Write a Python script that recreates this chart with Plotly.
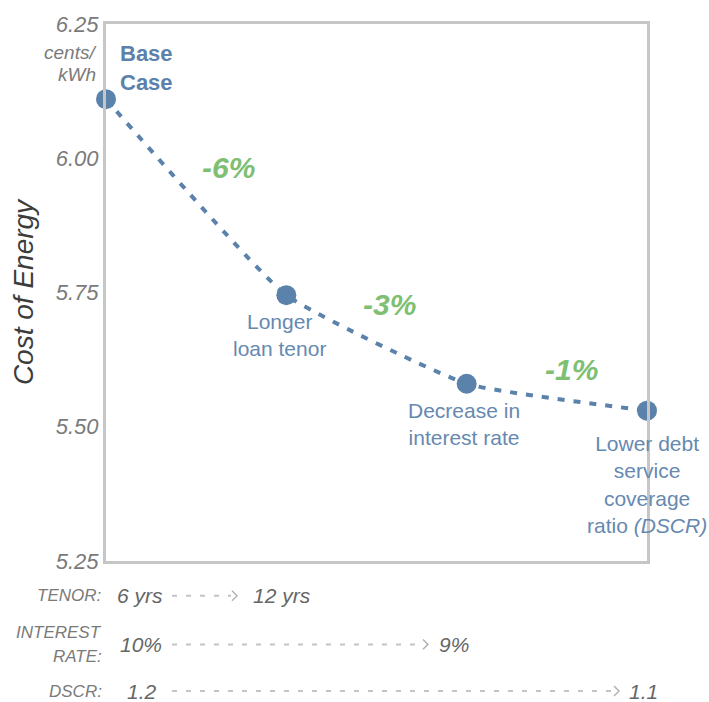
import plotly.graph_objects as go

# ---------------- data ----------------
scenario_x = [0, 1, 2, 3]
scenarios = ["Base Case", "Longer loan tenor", "Decrease in interest rate",
             "Lower debt service coverage ratio"]
cost = [6.11, 5.745, 5.58, 5.53]
point_labels = ["<b>Base<br>Case</b>", "Longer<br>loan tenor",
                "Decrease in<br>interest rate",
                "Lower debt<br>service<br>coverage<br>ratio <i>(DSCR)</i>"]
changes = ["-6%", "-3%", "-1%"]
change_x = [0.68, 1.57, 2.58]
change_y = [5.983, 5.727, 5.607]
y_ticks = [5.25, 5.50, 5.75, 6.00, 6.25]
param_names = ["TENOR:", "INTEREST<br>RATE:", "DSCR:"]
param_from = ["6 yrs", "10%", "1.2"]
param_to = ["12 yrs", "9%", "1.1"]

# ---------------- style ----------------
W, H = 709, 702
ML, MR, MT, MB = 106, 62, 20, 141
PW, PH = W - ML - MR, H - MT - MB
BLUE = "#5b82ab"
BLUE_TXT = "#6689b0"
GREEN = "#7ebf74"
GRAY = "#7a7a7a"
FRAME = "#c6c6c6"
FONT = "Liberation Sans, Arial, sans-serif"


def px2paper_x(px):
    return (px - ML) / PW


def px2paper_y(py):
    return (MT + PH - py) / PH


fig = go.Figure()
fig.add_trace(go.Scatter(
    x=scenario_x, y=cost, mode="lines+markers", text=scenarios,
    line=dict(color=BLUE, width=4, dash="7px,9px", shape="spline", smoothing=0.4),
    marker=dict(size=20, color=BLUE),
    cliponaxis=False, hoverinfo="text+y", showlegend=False,
))

ann = []
# point labels
ann.append(dict(x=scenario_x[0], y=cost[0], xref="x", yref="y", text=point_labels[0],
                showarrow=False, xanchor="left", yanchor="bottom", xshift=12, yshift=2,
                align="left", font=dict(family=FONT, size=22, color=BLUE)))
shifts = [(0, 0), (-7, -13), (-3, -13), (0, -19)]
for i in range(1, 4):
    ann.append(dict(x=scenario_x[i], y=cost[i], xref="x", yref="y", text=point_labels[i],
                    showarrow=False, xanchor="center", yanchor="top",
                    xshift=shifts[i][0], yshift=shifts[i][1], align="center",
                    font=dict(family=FONT, size=21, color=BLUE_TXT)))
# change labels
for cx, cy, t in zip(change_x, change_y, changes):
    ann.append(dict(x=cx, y=cy, xref="x", yref="y", text=f"<b><i>{t}</i></b>",
                    showarrow=False, xanchor="center", yanchor="middle",
                    font=dict(family=FONT, size=30, color=GREEN)))
# unit label
ann.append(dict(x=px2paper_x(98), y=px2paper_y(49), xref="paper", yref="paper",
                text="<i>cents/</i>", showarrow=False, xanchor="right", yanchor="middle",
                font=dict(family=FONT, size=19, color=GRAY)))
ann.append(dict(x=px2paper_x(98), y=px2paper_y(71), xref="paper", yref="paper",
                text="<i>kWh</i>", showarrow=False, xanchor="right", yanchor="middle",
                font=dict(family=FONT, size=19, color=GRAY)))

# bottom parameter rows
row_y = [596, 645, 692]
from_left = [115, 118, 125]
arrow_start = [172, 172, 172]
arrow_end = [237, 428, 619]
to_left = [251, 437, 627]
shapes = []
for i in range(3):
    if i == 1:
        ann.append(dict(x=px2paper_x(104), y=px2paper_y(633), xref="paper", yref="paper",
                        text="<i>INTEREST</i>", showarrow=False,
                        xanchor="right", yanchor="middle",
                        font=dict(family=FONT, size=17, color=GRAY)))
        ann.append(dict(x=px2paper_x(104), y=px2paper_y(657), xref="paper", yref="paper",
                        text="<i>RATE:</i>", showarrow=False,
                        xanchor="right", yanchor="middle",
                        font=dict(family=FONT, size=17, color=GRAY)))
    else:
        ann.append(dict(x=px2paper_x(104), y=px2paper_y(row_y[i]), xref="paper",
                        yref="paper", text=f"<i>{param_names[i]}</i>", showarrow=False,
                        xanchor="right", yanchor="middle",
                        font=dict(family=FONT, size=17, color=GRAY)))
    ann.append(dict(x=px2paper_x(from_left[i]), y=px2paper_y(row_y[i]), xref="paper",
                    yref="paper", text=f"<i>{param_from[i]}</i>", showarrow=False,
                    xanchor="left", yanchor="middle",
                    font=dict(family=FONT, size=21, color="#666666")))
    ann.append(dict(x=px2paper_x(to_left[i]), y=px2paper_y(row_y[i]), xref="paper",
                    yref="paper", text=f"<i>{param_to[i]}</i>", showarrow=False,
                    xanchor="left", yanchor="middle",
                    font=dict(family=FONT, size=21, color="#666666")))
    yl = px2paper_y(row_y[i])
    shapes.append(dict(type="line", xref="paper", yref="paper",
                       x0=px2paper_x(arrow_start[i]), x1=px2paper_x(arrow_end[i] - 6),
                       y0=yl, y1=yl, line=dict(color="#c4c4c4", width=2, dash="5px,9px")))
    tip = arrow_end[i]
    shapes.append(dict(type="path", xref="paper", yref="paper",
                       path=(f"M {px2paper_x(tip-5)},{px2paper_y(row_y[i]-5)} "
                             f"L {px2paper_x(tip)},{yl} "
                             f"L {px2paper_x(tip-5)},{px2paper_y(row_y[i]+5)}"),
                       line=dict(color="#b4b4b4", width=1.5)))

fig.update_layout(
    width=W, height=H, margin=dict(l=ML, r=MR, t=MT, b=MB),
    plot_bgcolor="white", paper_bgcolor="white",
    annotations=ann, shapes=shapes,
    xaxis=dict(range=[0, 3], showgrid=False, zeroline=False, showticklabels=False,
               showline=True, mirror=True, linecolor=FRAME, linewidth=3, ticks=""),
    yaxis=dict(range=[5.25, 6.25], tickvals=y_ticks,
               ticktext=[f"<i>{v:.2f}</i>" for v in y_ticks],
               showgrid=False, zeroline=False, showline=True, mirror=True,
               linecolor=FRAME, linewidth=3, ticks="",
               tickfont=dict(family=FONT, size=22, color=GRAY),
               title=dict(text="<i>Cost of Energy</i>", standoff=14,
                          font=dict(family=FONT, size=28, color="#3c3c3c"))),
    font=dict(family=FONT),
)

fig.write_html("out.html")
